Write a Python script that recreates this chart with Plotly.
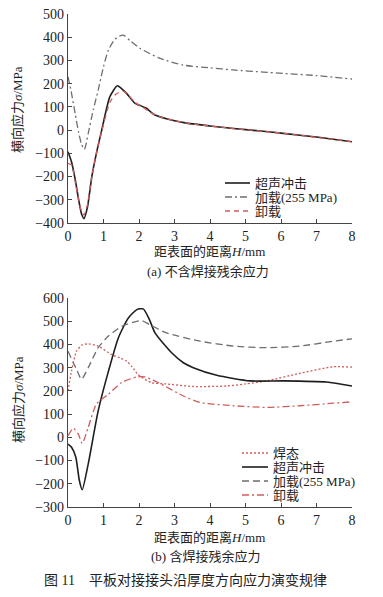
import plotly.graph_objects as go

# ---------- data: (a) without welding residual stress ----------
a_uit_H = [0, 0.1, 0.2, 0.3, 0.38, 0.45, 0.55, 0.67, 0.8, 0.95, 1.18, 1.39, 1.5, 1.65, 1.89, 2.0, 2.12, 2.2, 2.45, 3.0, 3.3, 4.0, 4.66, 5.5, 6.06, 7.0, 8]
a_uit_S = [-93, -137, -210, -300, -360, -381, -330, -201, -100, 0, 144, 191, 180, 158, 115, 108, 100, 95, 65, 40, 31, 18, 7, -5, -14, -30, -50]

a_load_H = [0, 0.1, 0.2, 0.3, 0.38, 0.46, 0.57, 0.71, 0.85, 1.0, 1.14, 1.32, 1.45, 1.56, 1.75, 2.03, 2.59, 3.25, 4.0, 4.66, 5.5, 6.06, 7.0, 8]
a_load_S = [230, 158, 72, -10, -60, -83, -14, 86, 172, 273, 345, 391, 405, 409, 385, 352, 309, 280, 268, 259, 250, 244, 235, 220]

a_unload_H = [0, 0.1, 0.2, 0.3, 0.38, 0.45, 0.55, 0.67, 0.8, 0.95, 1.18, 1.35, 1.55, 1.7, 1.9, 2.1, 2.45, 3.3, 4.66, 6.06, 8]
a_unload_S = [-143, -150, -220, -300, -350, -365, -320, -200, -100, -5, 120, 155, 168, 150, 118, 100, 65, 31, 7, -14, -50]

# ---------- data: (b) with welding residual stress ----------
b_weld_H = [0, 0.1, 0.24, 0.4, 0.57, 0.85, 1.22, 1.5, 1.65, 1.8, 1.97, 2.34, 2.77, 3.53, 4.46, 5.0, 5.6, 6.54, 7.47, 8]
b_weld_S = [200, 286, 371, 398, 403, 393, 357, 340, 328, 305, 271, 236, 230, 219, 221, 230, 243, 276, 304, 302]

b_uit_H = [0, 0.1, 0.22, 0.32, 0.4, 0.57, 0.85, 1.14, 1.42, 1.7, 1.94, 2.12, 2.3, 2.45, 2.92, 3.25, 3.53, 4.19, 5.13, 6.06, 7.28, 8]
b_uit_S = [-29, -43, -86, -186, -226, -114, 114, 285, 429, 514, 550, 553, 505, 450, 364, 321, 300, 267, 243, 243, 238, 221]

b_load_H = [0, 0.15, 0.25, 0.38, 0.57, 0.85, 1.14, 1.51, 2.07, 2.3, 2.77, 3.72, 4.66, 5.6, 6.54, 7.47, 8]
b_load_S = [371, 321, 290, 250, 300, 386, 436, 478, 503, 485, 450, 414, 393, 386, 393, 414, 424]

b_unload_H = [0, 0.15, 0.29, 0.4, 0.57, 0.8, 1.14, 1.51, 1.94, 2.17, 2.54, 3.25, 3.72, 4.66, 5.6, 6.54, 7.47, 8]
b_unload_S = [7, 39, 14, -26, 43, 143, 186, 236, 260, 260, 236, 178, 150, 136, 129, 136, 147, 153]

x_ticks = [0, 1, 2, 3, 4, 5, 6, 7, 8]
a_y_ticks = [-400, -300, -200, -100, 0, 100, 200, 300, 400, 500]
b_y_ticks = [-300, -200, -100, 0, 100, 200, 300, 400, 500, 600]

N_UIT = "超声冲击"
N_LOAD = "加载(255 MPa)"
N_UNLOAD = "卸载"
N_WELD = "焊态"

BLACK = "#1e1e1e"
GRAY = "#6e6e6e"
RED = "#d05c5c"
SERIF = "Liberation Serif, Noto Sans CJK SC, serif"

DASH_A_LOAD = "7px,3px,2px,3px"
DASH_A_UNLOAD = "5px,4px"
DASH_B_WELD = "2px,2px"
DASH_B_LOAD = "7px,4px"
DASH_B_UNLOAD = "7px,3px,2px,3px"

# page body has an 8px margin: figure is sized to fit and positions compensate
OFF = 8
W, H = 383 - OFF, 597 - OFF

fig = go.Figure()

def add(x, y, name, color, dash, width, xa, ya):
    fig.add_trace(go.Scatter(
        x=x, y=y, name=name, mode="lines", showlegend=False,
        line=dict(color=color, dash=dash, width=width, shape="spline", smoothing=0.6),
        xaxis=xa, yaxis=ya))

add(a_uit_H, a_uit_S, N_UIT, BLACK, "solid", 1.6, "x", "y")
add(a_load_H, a_load_S, N_LOAD, GRAY, DASH_A_LOAD, 1.3, "x", "y")
add(a_unload_H, a_unload_S, N_UNLOAD, RED, DASH_A_UNLOAD, 1.3, "x", "y")

add(b_weld_H, b_weld_S, N_WELD, RED, DASH_B_WELD, 1.3, "x2", "y2")
add(b_uit_H, b_uit_S, N_UIT, BLACK, "solid", 1.6, "x2", "y2")
add(b_load_H, b_load_S, N_LOAD, GRAY, DASH_B_LOAD, 1.3, "x2", "y2")
add(b_unload_H, b_unload_S, N_UNLOAD, RED, DASH_B_UNLOAD, 1.3, "x2", "y2")

def px_x(p):
    return (p - OFF) / W

def px_y(p):
    return 1 - (p - OFF) / H

axis_common = dict(showgrid=False, zeroline=False, showline=True, linecolor="#444",
                   linewidth=1.3, ticks="inside", ticklen=4, tickcolor="#444",
                   automargin=False, ticklabeloverflow="allow",
                   tickfont=dict(family=SERIF, size=14, color="#222"))

xdom = [px_x(68), px_x(352)]
fig.update_layout(
    width=W, height=H, margin=dict(l=0, r=0, t=0, b=0),
    paper_bgcolor="white", plot_bgcolor="white",
    font=dict(family=SERIF, size=13, color="#222"),
    xaxis=dict(domain=xdom, range=[0, 8], tickvals=x_ticks, anchor="y", **axis_common),
    yaxis=dict(domain=[px_y(223), px_y(14)], range=[-400, 500], tickvals=a_y_ticks, anchor="x", **axis_common),
    xaxis2=dict(domain=xdom, range=[0, 8], tickvals=x_ticks, anchor="y2", **axis_common),
    yaxis2=dict(domain=[px_y(507), px_y(298)], range=[-300, 600], tickvals=b_y_ticks, anchor="x2", **axis_common),
    showlegend=False,
)

def ann(text, x, y, size=13, angle=0, xanchor="center"):
    fig.add_annotation(text=text, x=px_x(x), y=px_y(y), xref="paper", yref="paper",
                       showarrow=False, textangle=angle, xanchor=xanchor, yanchor="middle",
                       font=dict(family=SERIF, size=size, color="#222"))

# manual compact legends (sample line + label), positioned in figure pixels
def legend_item(x0, x1, y, color, dash, width, label):
    fig.add_shape(type="line", xref="paper", yref="paper",
                  x0=px_x(x0), x1=px_x(x1), y0=px_y(y), y1=px_y(y),
                  line=dict(color=color, dash=dash, width=width))
    ann(label, x1 + 3, y, 13, 0, "left")

legend_item(225, 250, 183, BLACK, "solid", 1.6, N_UIT)
legend_item(225, 250, 197, GRAY, DASH_A_LOAD, 1.3, N_LOAD)
legend_item(225, 250, 211, RED, DASH_A_UNLOAD, 1.3, N_UNLOAD)

legend_item(242, 268, 453, RED, DASH_B_WELD, 1.3, N_WELD)
legend_item(242, 268, 467, BLACK, "solid", 1.6, N_UIT)
legend_item(242, 268, 481, GRAY, DASH_B_LOAD, 1.3, N_LOAD)
legend_item(242, 268, 495, RED, DASH_B_UNLOAD, 1.3, N_UNLOAD)

ylab = "横向应力<i>σ</i>/MPa"
xlab = "距表面的距离<i>H</i>/mm"
ann(ylab, 18, 110, 13, -90)
ann(ylab, 18, 400, 13, -90)
ann(xlab, 210, 251)
ann(xlab, 210, 537)
ann("(a) 不含焊接残余应力", 208, 271)
ann("(b) 含焊接残余应力", 205, 556)
ann("图 11　平板对接接头沿厚度方向应力演变规律", 185, 580, 14)

fig.write_html("out.html")
